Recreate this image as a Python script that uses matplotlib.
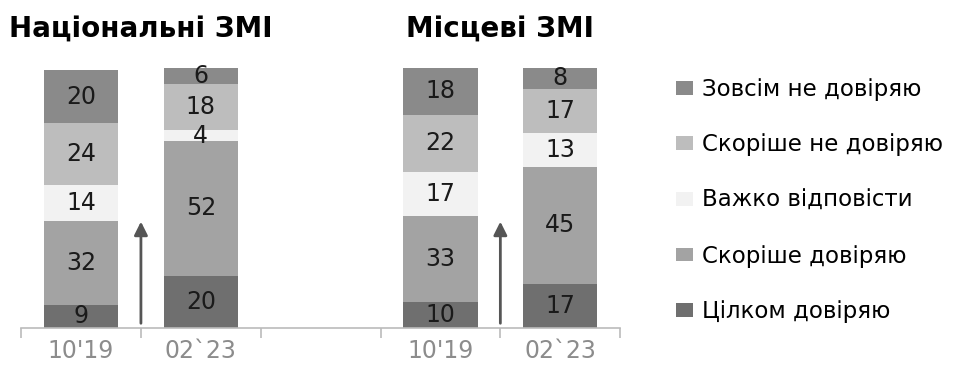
import numpy as np
import matplotlib
matplotlib.use("Agg")
import matplotlib.pyplot as plt
from matplotlib.patches import Patch

plt.rcParams["font.family"] = ["DejaVu Sans"]

# Bar slots: national 10'19, 02'23, gap, local 10'19, 02'23
periods = ["10'19", "02`23", "", "10'19", "02`23"]
titles = ["Національні ЗМІ", "Місцеві ЗМІ"]

categories = ["Зовсім не довіряю", "Скоріше не довіряю", "Важко відповісти",
              "Скоріше довіряю", "Цілком довіряю"]

# values per category (top of legend -> bottom), per slot
not_at_all = [20, 6, 0, 18, 8]
rather_not = [24, 18, 0, 22, 17]
hard_to_say = [14, 4, 0, 17, 13]
rather_trust = [32, 52, 0, 33, 45]
fully_trust = [9, 20, 0, 10, 17]

colors = ["#8a8a8a", "#bdbdbd", "#f2f2f2", "#a3a3a3", "#6f6f6f"]

fig = plt.figure(figsize=(9.6, 3.65), dpi=100)
ax = fig.add_axes([0.022, 0.101, 0.624, 0.713])

x = np.arange(len(periods))
stack = [fully_trust, rather_trust, hard_to_say, rather_not, not_at_all]
stack_colors = colors[::-1]
bottom = np.zeros(len(periods))
for vals, col in zip(stack, stack_colors):
    vals = np.array(vals, dtype=float)
    ax.bar(x, vals, 0.62, bottom=bottom, color=col, linewidth=0)
    for xi, v, b in zip(x, vals, bottom):
        if v > 0:
            ax.text(xi, b + v / 2, str(int(v)), ha="center", va="center",
                    fontsize=17, color="#1a1a1a")
    bottom += vals

# arrows between periods
for xa in [0.5, 3.5]:
    ax.annotate("", xy=(xa, 42), xytext=(xa, 0.8),
                arrowprops=dict(arrowstyle="-|>,head_length=0.8,head_width=0.4",
                                color="#555555", lw=2))

ax.set_xlim(-0.5, 4.5)
ax.set_ylim(0, 100)
for s in ["top", "right", "left"]:
    ax.spines[s].set_visible(False)
ax.spines["bottom"].set_color("#bbbbbb")
ax.spines["bottom"].set_linewidth(1.2)
ax.set_yticks([])
ax.set_xticks(x)
ax.set_xticklabels(periods, fontsize=17, color="#8c8c8c")
ax.tick_params(axis="x", which="major", length=0, pad=8)
ax.set_xticks(np.arange(-0.5, 5, 1), minor=True)
ax.tick_params(axis="x", which="minor", length=7, color="#bbbbbb", width=1.2)

# group titles
ax.text(0.5, 111.5, titles[0], ha="center", va="baseline", fontsize=20,
        fontweight="bold", clip_on=False)
ax.text(3.5, 111.5, titles[1], ha="center", va="baseline", fontsize=20,
        fontweight="bold", clip_on=False)

handles = [Patch(facecolor=c, edgecolor="none") for c in colors]
fig.legend(handles, categories, loc="upper left", bbox_to_anchor=(0.692, 0.818),
           frameon=False, fontsize=16.5, handlelength=0.75, handleheight=0.55,
           handletextpad=0.4, labelspacing=1.42, borderpad=0)

fig.savefig("out.png", dpi=100)
